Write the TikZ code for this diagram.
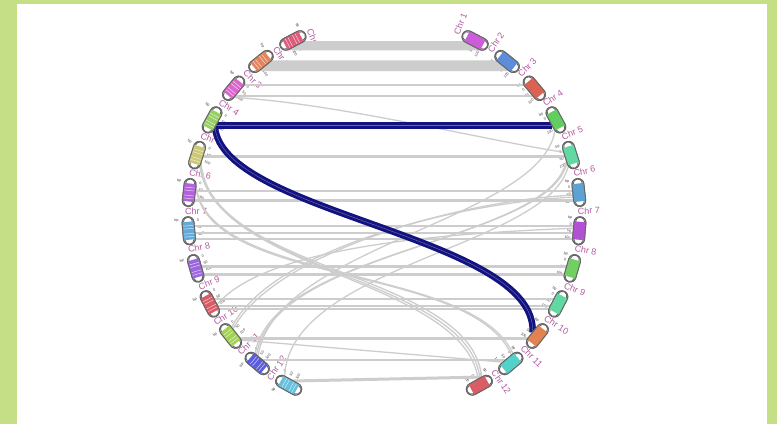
\documentclass[tikz,border=0pt]{standalone}
\usepackage{fontspec}
\setmainfont{Liberation Sans}
\definecolor{pagegreen}{RGB}{196,223,134}
\definecolor{chrpink}{RGB}{178,92,160}
\definecolor{navyband}{RGB}{18,18,128}
\definecolor{linkgray}{RGB}{205,205,205}
% left chromosomes
\definecolor{lc1}{RGB}{222,92,124}
\definecolor{lc2}{RGB}{226,132,92}
\definecolor{lc3}{RGB}{218,102,204}
\definecolor{lc4}{RGB}{150,208,100}
\definecolor{lc5}{RGB}{204,200,120}
\definecolor{lc6}{RGB}{178,98,218}
\definecolor{lc7}{RGB}{98,170,218}
\definecolor{lc8}{RGB}{156,102,222}
\definecolor{lc9}{RGB}{218,92,102}
\definecolor{lc10}{RGB}{162,210,82}
\definecolor{lc11}{RGB}{92,92,222}
\definecolor{lc12}{RGB}{102,192,222}
% right chromosomes
\definecolor{rc1}{RGB}{204,92,218}
\definecolor{rc2}{RGB}{92,140,218}
\definecolor{rc3}{RGB}{218,98,82}
\definecolor{rc4}{RGB}{98,206,98}
\definecolor{rc5}{RGB}{98,216,162}
\definecolor{rc6}{RGB}{92,162,210}
\definecolor{rc7}{RGB}{178,82,210}
\definecolor{rc8}{RGB}{114,208,98}
\definecolor{rc9}{RGB}{98,216,162}
\definecolor{rc10}{RGB}{226,130,82}
\definecolor{rc11}{RGB}{82,210,202}
\definecolor{rc12}{RGB}{218,92,102}
\usetikzlibrary{arrows.meta}

\begin{document}
\begin{tikzpicture}[x=1pt, y=1pt,
  chrline/.style={draw=black!60, line width=0.9pt},
  chrlab/.style={text=chrpink, font=\fontsize{9}{9}\selectfont, inner sep=0pt},
  ticklab/.style={text=black!75, font=\fontsize{3.6}{3.6}\selectfont, inner sep=0pt},
  grayrib/.style={draw=linkgray, line width=#1},
  grayrib/.default=1.3pt,
  band/.style={fill=linkgray},
  synteny/.style={draw=navyband, line width=3pt, double=navyband!65!white, double distance=0.5pt}]
\useasboundingbox (0,0) rectangle (777,424);
\fill[pagegreen] (0,0) rectangle (777,424);
\fill[white] (17,0) rectangle (767,420);

% anchor points on the inner edge of each chromosome
\foreach \n/\a in {1/117.7, 2/128.9, 3/140.1, 4/151.3, 5/162.5, 6/173.7,
                   7/184.9, 8/196.1, 9/207.3, 10/218.5, 11/229.7, 12/240.9}{
  \begin{scope}[shift={(384,210)}, rotate=\a]
    \foreach \k in {0,...,20}
      \coordinate (L\n-\k) at (190,\k-10);
  \end{scope}
}
\foreach \n/\a in {1/62.3, 2/51.1, 3/39.9, 4/28.7, 5/17.5, 6/6.3,
                   7/-4.9, 8/-16.1, 9/-27.3, 10/-38.5, 11/-49.7, 12/-60.9}{
  \begin{scope}[shift={(384,210)}, rotate=\a]
    \foreach \k in {0,...,20}
      \coordinate (R\n-\k) at (190,10-\k);
  \end{scope}
}

% names and scales (under the links)
\foreach \n/\a in {1/117.7, 2/128.9, 3/140.1, 4/151.3, 5/162.5, 6/173.7,
                   7/184.9, 8/196.1, 9/207.3, 10/218.5, 11/229.7, 12/240.9}{
  \begin{scope}[shift={(384,210)}, rotate=\a]
    \node[chrlab, rotate=\a-185] (Lname\n) at (-5.8:188) {Chr \n};
    \node[ticklab, anchor=east, rotate=\a-180] (L\n-bp) at (205,-11) {bp};
    \node[ticklab, anchor=west, rotate=\a-180] (L\n-t0) at (187,-10) {0};
    \node[ticklab, anchor=west, rotate=\a-180] (L\n-t50) at (187,-3) {50};
    \node[ticklab, anchor=west, rotate=\a-180] (L\n-t100) at (187,4) {100};
  \end{scope}
}
\foreach \n/\a in {1/62.3, 2/51.1, 3/39.9, 4/28.7, 5/17.5, 6/6.3,
                   7/-4.9, 8/-16.1, 9/-27.3, 10/-38.5, 11/-49.7, 12/-60.9}{
  \begin{scope}[shift={(384,210)}, rotate=\a]
    \node[chrlab, rotate=\a+5.5] (Rname\n) at (5.8:205) {Chr \n};
    \node[ticklab, anchor=east, rotate=\a] (R\n-bp) at (188,12) {bp};
    \node[ticklab, anchor=east, rotate=\a] (R\n-t0) at (188,6) {0};
    \node[ticklab, anchor=east, rotate=\a] (R\n-t50) at (188,-1) {50};
    \node[ticklab, anchor=east, rotate=\a] (R\n-t100) at (188,-8) {100};
  \end{scope}
}

% gray links
\fill[band] (L1-0) -- (L1-20) -- (R1-20) -- (R1-0) -- cycle;
\fill[band] (L2-1) -- (L2-18) -- (R2-18) -- (R2-1) -- cycle;
\draw[grayrib=2pt] (L3-1) -- (R3-1);
\draw[grayrib=2pt] (L3-15) -- (R3-15);
\draw[grayrib] (L3-17) .. controls +(100,-5) and +(-60,8) .. (R5-5);
\draw[grayrib=3pt] (L5-10) -- (R5-10);
\draw[grayrib=2.5pt] (L6-8) -- (R6-8);
\draw[grayrib=3pt] (L6-17) -- (R6-17);
\foreach \k in {6,13,19}
  \draw[grayrib=2pt] (L7-\k) -- (R7-\k);
\draw[grayrib=3pt] (L8-10) -- (R8-10);
\draw[grayrib=3pt] (L8-18) -- (R8-18);
\foreach \k in {8,15,19}
  \draw[grayrib=2pt] (L9-\k) -- (R9-\k);
\draw[grayrib=3pt] (L10-18) -- (R10-18);
\draw[grayrib=2pt] (L11-11) -- (R11-11);
\draw[grayrib=3pt] (L12-12) -- (R12-4);
\draw[grayrib] (L10-20) -- (R11-15);
% crossing arcs
\draw[grayrib] (R4-19) .. controls +(-15,-90) and +(15,110) .. (L11-6);
\draw[grayrib] (R5-14) .. controls +(-16,-82) and +(16,106) .. (L11-4);
\draw[grayrib] (R5-16) .. controls +(-18,-80) and +(18,105) .. (L11-2);
\draw[grayrib] (R5-20) .. controls +(-20,-80) and +(5,110) .. (L12-2);
\draw[grayrib] (L5-16) .. controls +(8,-110) and +(-10,105) .. (R12-4);
\draw[grayrib] (L5-18) .. controls +(12,-108) and +(-12,102) .. (R12-6);
\draw[grayrib] (L5-20) .. controls +(15,-105) and +(-15,100) .. (R12-8);
\draw[grayrib] (L6-2) .. controls +(10,-100) and +(-40,90) .. (R11-2);
\draw[grayrib] (L6-4) .. controls +(12,-100) and +(-40,92) .. (R11-4);
\draw[grayrib] (L10-4) .. controls +(40,80) and +(-110,-5) .. (R6-14);
\draw[grayrib] (L10-6) .. controls +(42,78) and +(-110,-5) .. (R6-12);
\draw[grayrib] (L9-14) .. controls +(50,60) and +(-120,-5) .. (R7-8);

% highlighted links
\draw[synteny] (L4-13) -- (R4-13);
\draw[synteny] (L4-15) .. controls +(8,-87) and +(4,96) .. (R10-10);

% chromosomes
\foreach \n/\a in {1/117.7, 2/128.9, 3/140.1, 4/151.3, 5/162.5, 6/173.7,
                   7/184.9, 8/196.1, 9/207.3, 10/218.5, 11/229.7, 12/240.9}{
  \begin{scope}[shift={(384,210)}, rotate=\a]
    \draw[chrline, fill=white, rounded corners=5.9pt] (190,-14) rectangle (202,14);
    \draw[chrline, fill=white] (196,-9) circle (4.6) (196,9) circle (4.6);
    \fill[lc\n] (190,-9) rectangle (202,9);
    \foreach \s in {-5,-2,3,6}
      \draw[white, opacity=.7, line width=.5pt] (191,\s) -- (201,\s);
    \draw[chrline, rounded corners=5.9pt] (190,-14) rectangle (202,14);
  \end{scope}
}
\foreach \n/\a in {1/62.3, 2/51.1, 3/39.9, 4/28.7, 5/17.5, 6/6.3,
                   7/-4.9, 8/-16.1, 9/-27.3, 10/-38.5, 11/-49.7, 12/-60.9}{
  \begin{scope}[shift={(384,210)}, rotate=\a]
    \draw[chrline, fill=white, rounded corners=5.9pt] (190,-14) rectangle (202,14);
    \draw[chrline, fill=white] (196,-9) circle (4.6) (196,9) circle (4.6);
    \fill[rc\n] (190,-9) rectangle (202,9);
    \draw[chrline, rounded corners=5.9pt] (190,-14) rectangle (202,14);
  \end{scope}
}
\end{tikzpicture}
\end{document}
